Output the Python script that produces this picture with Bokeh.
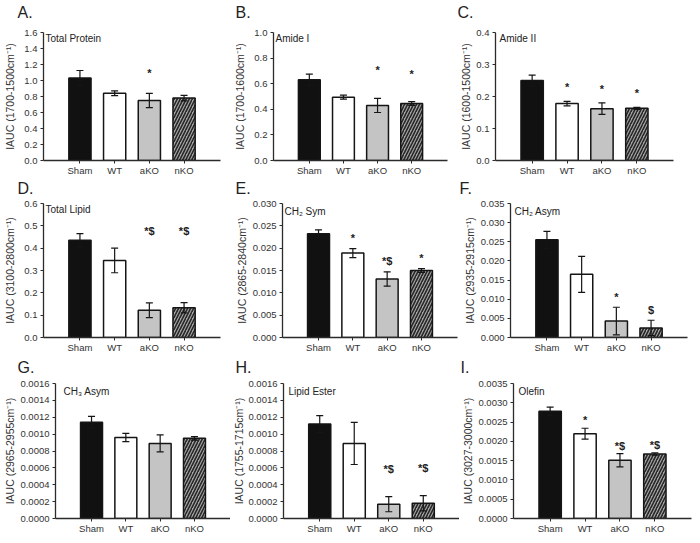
from bokeh.plotting import figure
from bokeh.layouts import column, row
from bokeh.models import (Range1d, FactorRange, FixedTicker, NumeralTickFormatter,
                          ColumnDataSource, Whisker, TeeHead, Label)
from bokeh.core.properties import value
from bokeh.embed import file_html
from bokeh.resources import INLINE

groups = ["Sham", "WT", "aKO", "nKO"]

# A. Total Protein
protein_mean = [1.03, 0.84, 0.75, 0.78]
protein_err = [0.095, 0.03, 0.09, 0.035]
protein_sig = ["", "", "*", ""]
protein_ticks = [0.0, 0.2, 0.4, 0.6, 0.8, 1.0, 1.2, 1.4, 1.6]

# B. Amide I
amide1_mean = [0.63, 0.495, 0.43, 0.445]
amide1_err = [0.045, 0.015, 0.055, 0.015]
amide1_sig = ["", "", "*", "*"]
amide1_ticks = [0.0, 0.2, 0.4, 0.6, 0.8, 1.0]

# C. Amide II
amide2_mean = [0.25, 0.178, 0.162, 0.163]
amide2_err = [0.017, 0.007, 0.018, 0.003]
amide2_sig = ["", "*", "*", "*"]
amide2_ticks = [0.0, 0.1, 0.2, 0.3, 0.4]

# D. Total Lipid
lipid_mean = [0.435, 0.345, 0.122, 0.133]
lipid_err = [0.03, 0.055, 0.033, 0.023]
lipid_sig = ["", "", "*$", "*$"]
lipid_ticks = [0.0, 0.1, 0.2, 0.3, 0.4, 0.5, 0.6]

# E. CH2 Sym
ch2sym_mean = [0.0232, 0.0189, 0.0131, 0.0150]
ch2sym_err = [0.0009, 0.0010, 0.0016, 0.0004]
ch2sym_sig = ["", "*", "*$", "*"]
ch2sym_ticks = [0.0, 0.005, 0.010, 0.015, 0.020, 0.025, 0.030]

# F. CH2 Asym
ch2asym_mean = [0.0255, 0.0165, 0.0043, 0.0025]
ch2asym_err = [0.0022, 0.0047, 0.0036, 0.0020]
ch2asym_sig = ["", "", "*", "$"]
ch2asym_ticks = [0.0, 0.005, 0.010, 0.015, 0.020, 0.025, 0.030, 0.035]

# G. CH3 Asym
ch3asym_mean = [0.00114, 0.00096, 0.00089, 0.00095]
ch3asym_err = [0.00007, 0.00005, 0.00010, 0.00002]
ch3asym_sig = ["", "", "", ""]
ch3asym_ticks = [0.0, 0.0002, 0.0004, 0.0006, 0.0008, 0.0010, 0.0012, 0.0014, 0.0016]

# H. Lipid Ester
ester_mean = [0.00112, 0.00089, 0.00017, 0.00018]
ester_err = [0.00010, 0.00025, 0.00009, 0.00009]
ester_sig = ["", "", "*$", "*$"]
ester_ticks = [0.0, 0.0002, 0.0004, 0.0006, 0.0008, 0.0010, 0.0012, 0.0014, 0.0016]

# I. Olefin
olefin_mean = [0.00278, 0.00220, 0.00151, 0.00167]
olefin_err = [0.00011, 0.00014, 0.00017, 0.00003]
olefin_sig = ["", "*", "*$", "*$"]
olefin_ticks = [0.0, 0.0005, 0.0010, 0.0015, 0.0020, 0.0025, 0.0030, 0.0035]

panel_letters = [["A.", "B.", "C."], ["D.", "E.", "F."], ["G.", "H.", "I."]]

panels = [
    dict(title="Total Protein", ylabel="IAUC (1700-1500cm\u207b\u00b9)",
         mean=protein_mean, err=protein_err, sig=protein_sig, ticks=protein_ticks, fmt="0.0"),
    dict(title="Amide I", ylabel="IAUC (1700-1600cm\u207b\u00b9)",
         mean=amide1_mean, err=amide1_err, sig=amide1_sig, ticks=amide1_ticks, fmt="0.0"),
    dict(title="Amide II", ylabel="IAUC (1600-1500cm\u207b\u00b9)",
         mean=amide2_mean, err=amide2_err, sig=amide2_sig, ticks=amide2_ticks, fmt="0.0"),
    dict(title="Total Lipid", ylabel="IAUC (3100-2800cm\u207b\u00b9)",
         mean=lipid_mean, err=lipid_err, sig=lipid_sig, ticks=lipid_ticks, fmt="0.0"),
    dict(title="CH\u2082 Sym", ylabel="IAUC (2865-2840cm\u207b\u00b9)",
         mean=ch2sym_mean, err=ch2sym_err, sig=ch2sym_sig, ticks=ch2sym_ticks, fmt="0.000"),
    dict(title="CH\u2082 Asym", ylabel="IAUC (2935-2915cm\u207b\u00b9)",
         mean=ch2asym_mean, err=ch2asym_err, sig=ch2asym_sig, ticks=ch2asym_ticks, fmt="0.000"),
    dict(title="CH\u2083 Asym", ylabel="IAUC (2965-2955cm\u207b\u00b9)",
         mean=ch3asym_mean, err=ch3asym_err, sig=ch3asym_sig, ticks=ch3asym_ticks, fmt="0.0000"),
    dict(title="Lipid Ester", ylabel="IAUC (1755-1715cm\u207b\u00b9)",
         mean=ester_mean, err=ester_err, sig=ester_sig, ticks=ester_ticks, fmt="0.0000"),
    dict(title="Olefin", ylabel="IAUC (3027-3000cm\u207b\u00b9)",
         mean=olefin_mean, err=olefin_err, sig=olefin_sig, ticks=olefin_ticks, fmt="0.0000"),
]

# layout: width, height, border_left, border_right, border_top, border_bottom,
# axis label standoff, title dx, title dy, star gap
layouts = [
    (230, 156, 43, 10, 7, 16, 5, 2, 0, 20),
    (227, 156, 43, 10, 8, 15, 5, 2, 0, 28),
    (243, 156, 38, 27, 10, 15, 1, 4, 0, 14),
    (230, 157, 43, 10, 5, 18, 5, 2, 0, 72),
    (230, 157, 52, 3, 5, 18, 2, 2, 2, 11),
    (240, 157, 50, 13, 5, 18, 2, 4, 2, 10),
    (230, 167, 55, 0, 7, 25, 1, 8, 2, 10),
    (229, 167, 53, 0, 7, 25, 0, 5, 2, 28),
    (241, 167, 54, 9, 7, 25, 1, 5, 2, 8),
]

# letter strips above each row: strip height, baseline from strip bottom, letter x
strips = [(22, 10, [17, 235, 457]), (20, 10, [17, 235, 459]), (21, 9.5, [17, 235, 460])]

FONT = "Liberation Sans"
DARK = "#2b2b2b"
fills = ["#111111", "#ffffff", "#c4c4c4", "#a4a4a4"]
hatches = [" ", " ", " ", "/"]


def make_strip(letters, spec):
    h, base, xs = spec
    s = figure(width=700, height=h, x_range=Range1d(0, 700), y_range=Range1d(0, h),
               min_border=0, x_axis_location=None, y_axis_location=None,
               output_backend="svg", toolbar_location=None, tools="")
    s.title_location = None
    s.outline_line_color = None
    s.xgrid.visible = False
    s.ygrid.visible = False
    s.background_fill_color = "white"
    s.border_fill_color = "white"
    for t, x in zip(letters, xs):
        s.add_layout(Label(x=x, y=base, text=t, text_font=FONT, text_font_size="16px",
                           text_color="#222222", text_baseline="alphabetic",
                           text_align="left"))
    return s


def make_panel(cfg, lay):
    W, H, bl, br, bt, bb, als, tdx, tdy, gap = lay
    p = figure(x_range=FactorRange(factors=groups, range_padding=0.55,
                                   range_padding_units="absolute"),
               y_range=Range1d(0, cfg["ticks"][-1]),
               width=W, height=H,
               min_border_left=bl, min_border_right=br,
               min_border_top=bt, min_border_bottom=bb,
               output_backend="svg", toolbar_location=None, tools="")
    p.title_location = None
    p.outline_line_color = None
    p.xgrid.visible = False
    p.ygrid.visible = False
    p.background_fill_color = "white"
    p.border_fill_color = "white"

    top = [m + e for m, e in zip(cfg["mean"], cfg["err"])]
    low = [m - e for m, e in zip(cfg["mean"], cfg["err"])]
    src = ColumnDataSource(dict(x=groups, mean=cfg["mean"], upper=top, lower=low,
                                sig=cfg["sig"], fill=fills, hatch=hatches))
    p.vbar(x="x", top="mean", bottom=0, width=0.64, source=src,
           fill_color="fill", line_color="#151515", line_width=1.5,
           hatch_pattern="hatch", hatch_color="#262626", hatch_scale=6,
           hatch_weight=1.6)

    w = Whisker(base="x", upper="upper", lower="lower", source=src,
                line_color="#151515", line_width=1.2, level="annotation",
                upper_head=TeeHead(size=7, line_color="#151515", line_width=1.2),
                lower_head=TeeHead(size=7, line_color="#151515", line_width=1.2))
    p.add_layout(w)

    p.text(x="x", y="upper", text="sig", source=src, text_font=value(FONT),
           text_font_style="bold", text_font_size="11px", text_color="#222222",
           text_align="center", text_baseline="middle", y_offset=-gap)

    xa = p.xaxis[0]
    ya = p.yaxis[0]
    for ax in (xa, ya):
        ax.axis_line_color = DARK
        ax.axis_line_width = 1.3
        ax.major_tick_line_color = DARK
        ax.major_tick_line_width = 1
        ax.major_tick_out = 3
        ax.major_tick_in = 0
        ax.minor_tick_line_color = None
        ax.major_label_text_font = FONT
        ax.major_label_text_color = "#333333"
        ax.major_label_standoff = 3
    xa.major_label_standoff = 1
    xa.major_label_text_font_size = "9.5px"
    ya.major_label_text_font_size = "9.5px"
    ya.ticker = FixedTicker(ticks=cfg["ticks"])
    ya.formatter = NumeralTickFormatter(format=cfg["fmt"])
    ya.axis_label = cfg["ylabel"]
    ya.axis_label_text_font = FONT
    ya.axis_label_text_font_style = "normal"
    ya.axis_label_text_font_size = "10.5px"
    ya.axis_label_text_color = "#333333"
    ya.axis_label_standoff = als

    p.add_layout(Label(x=tdx, y=cfg["ticks"][-1], x_units="screen", y_units="data",
                       y_offset=-tdy, text=cfg["title"], text_font=FONT,
                       text_font_size="10px", text_color="#222222",
                       text_baseline="top", text_align="left"))
    return p


figs = [make_panel(c, l) for c, l in zip(panels, layouts)]
items = []
for r in range(3):
    items.append(make_strip(panel_letters[r], strips[r]))
    items.append(row(*figs[3 * r:3 * r + 3]))
layout = column(*items)

with open("out.html", "w") as f:
    f.write(file_html(layout, INLINE))
